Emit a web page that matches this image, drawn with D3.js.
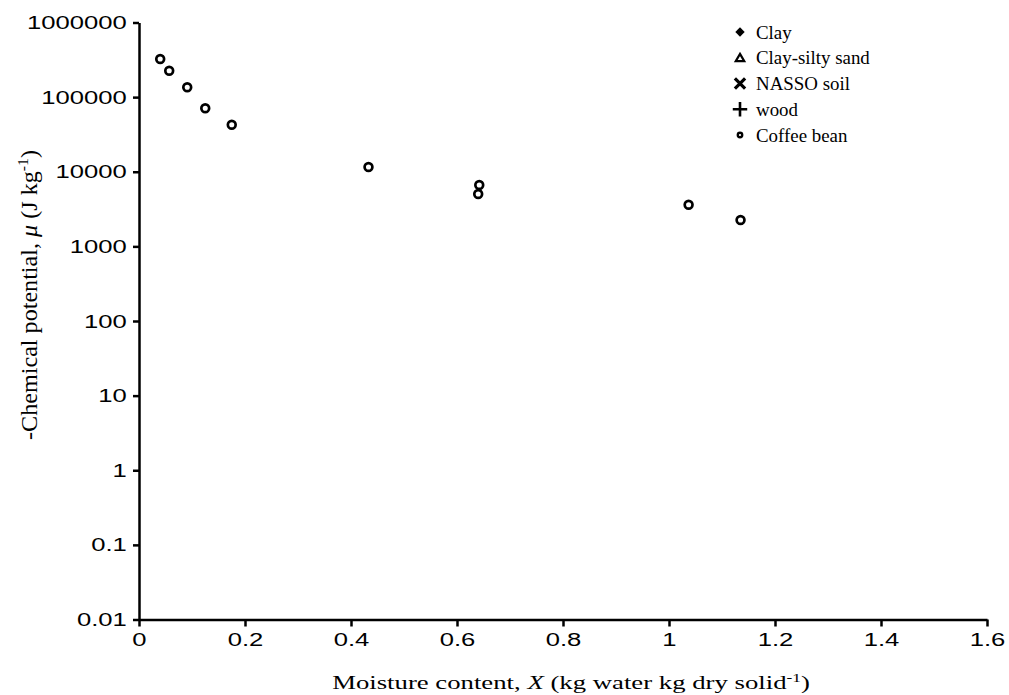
<!DOCTYPE html>
<html>
<head>
<meta charset="utf-8">
<script src="https://cdn.jsdelivr.net/npm/d3@7"></script>
<style>
  html, body { margin: 0; padding: 0; background: #fff; }
  svg { display: block; }
</style>
</head>
<body>
<svg id="chart" width="1009" height="695"></svg>
<script>
// ---- data ----
const seriesNames = ["Clay", "Clay-silty sand", "NASSO soil", "wood", "Coffee bean"];
const clayX = [], clayY = [];
const claySandX = [], claySandY = [];
const nassoX = [], nassoY = [];
const woodX = [], woodY = [];
const coffeeX = [0.040, 0.057, 0.091, 0.125, 0.175, 0.433, 0.642, 0.640, 1.037, 1.135];
const coffeeY = [324000, 226000, 135500, 70800, 42700, 11580, 6640, 5040, 3615, 2256];
const xTicks = [0, 0.2, 0.4, 0.6, 0.8, 1, 1.2, 1.4, 1.6];
const yTicks = [0.01, 0.1, 1, 10, 100, 1000, 10000, 100000, 1000000];

// ---- layout ----
const svg = d3.select("#chart");
const x = d3.scaleLinear().domain([0, 1.6]).range([139, 987]);
const y = d3.scaleLog().domain([0.01, 1000000]).range([619.5, 22.5]);

const stretch = 1.35;

// axes
const xAxis = svg.append("g")
  .attr("transform", `translate(0,${y(0.01)})`)
  .call(d3.axisBottom(x).tickValues(xTicks).tickFormat(d3.format("~g"))
        .tickSizeInner(7).tickSizeOuter(0).tickPadding(6));
const yAxis = svg.append("g")
  .attr("transform", `translate(${x(0)},0)`)
  .call(d3.axisLeft(y).tickValues(yTicks).tickFormat(d => String(d))
        .tickSizeInner(6).tickSizeOuter(0).tickPadding(3));

[xAxis, yAxis].forEach(a => {
  a.select(".domain").attr("stroke", "#000").attr("stroke-width", 2.5);
  a.selectAll(".tick line").attr("stroke", "#000").attr("stroke-width", 2.5);
  a.selectAll(".tick text")
    .attr("fill", "#000")
    .style("font-family", "'Liberation Sans', Arial, sans-serif")
    .style("font-size", "19px")
    .attr("transform", `scale(${stretch},1)`);
});

// coffee bean points
const coffee = coffeeX.map((v, i) => ({ x: v, y: coffeeY[i] }));
svg.append("g").selectAll("circle").data(coffee).join("circle")
  .attr("cx", d => x(d.x)).attr("cy", d => y(d.y))
  .attr("r", 3.9).attr("fill", "none").attr("stroke", "#000").attr("stroke-width", 2.7);

// axis titles
const serif = "'Liberation Serif', 'Times New Roman', serif";
const xt = svg.append("text")
  .attr("text-anchor", "middle")
  .style("font-family", serif).style("font-size", "18.5px").attr("fill", "#000");
xt.append("tspan").text("Moisture content, ");
xt.append("tspan").style("font-style", "italic").text("X");
xt.append("tspan").text(" (kg water kg dry solid");
xt.append("tspan").attr("dy", -7).style("font-size", "12px").text("-1");
xt.append("tspan").attr("dy", 7).text(")");
{
  const w = xt.node().getBBox().width;
  xt.attr("transform", `translate(571,689) scale(${478 / w},1)`);
}

const yt = svg.append("text")
  .attr("text-anchor", "middle")
  .style("font-family", serif).style("font-size", "23px").attr("fill", "#000");
yt.append("tspan").text("-Chemical potential, ");
yt.append("tspan").style("font-style", "italic").text("μ");
yt.append("tspan").text(" (J kg");
yt.append("tspan").attr("dy", -9).style("font-size", "15px").text("-1");
yt.append("tspan").attr("dy", 9).text(")");
{
  const w = yt.node().getBBox().width;
  yt.attr("transform", `translate(37,295) rotate(-90) scale(${290 / w},1)`);
}

// legend
const legendSymbols = [
  { type: d3.symbolSquare, size: 44, rot: 45, fill: "#000", stroke: "none", sw: 0 },
  { type: d3.symbolTriangle2, size: 52, rot: 0, fill: "none", stroke: "#000", sw: 2.2 },
  { type: d3.symbolX, size: 70, rot: 0, fill: "none", stroke: "#000", sw: 3.2 },
  { type: d3.symbolPlus, size: 70, rot: 0, fill: "none", stroke: "#000", sw: 2.6 },
  { type: d3.symbolCircle, size: 16, rot: 0, fill: "none", stroke: "#000", sw: 2.3 }
];
const legendY = d3.scalePoint().domain(seriesNames).range([32, 135]);
const lg = svg.append("g");
seriesNames.forEach((name, i) => {
  const s = legendSymbols[i];
  lg.append("path")
    .attr("d", d3.symbol().type(s.type).size(s.size)())
    .attr("transform", `translate(740,${legendY(name) + (i === 1 ? 1 : 0)}) rotate(${s.rot})`)
    .attr("fill", s.fill).attr("stroke", s.stroke).attr("stroke-width", s.sw);
  lg.append("text")
    .attr("transform", `translate(756,${legendY(name) + 6.5}) scale(1.05,1)`)
    .style("font-family", serif).style("font-size", "18px").attr("fill", "#000")
    .text(name);
});
</script>
</body>
</html>
